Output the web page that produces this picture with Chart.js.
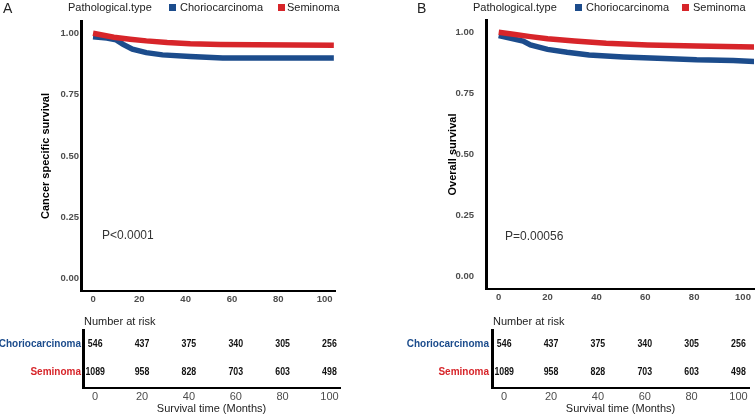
<!DOCTYPE html>
<html>
<head>
<meta charset="utf-8">
<script src="https://cdn.jsdelivr.net/npm/chart.js@4.4.1/dist/chart.umd.min.js"></script>
<style>
  body { margin: 0; background: #fff; }
  #wrap { position: relative; width: 756px; height: 416px; overflow: hidden; font-family: "Liberation Sans", Arial, sans-serif; }
  #wrap canvas { position: absolute; }
  .txt { position: absolute; white-space: nowrap; line-height: 13px; font-size: 11px; color: #222; }
  .tag { position: absolute; font-size: 14px; line-height: 14px; color: #222; }
  .pval { position: absolute; white-space: nowrap; font-size: 12px; line-height: 14px; color: #333; }
  .sq { position: absolute; width: 7px; height: 7px; }
</style>
</head>
<body>
<div id="wrap">
  <canvas id="kmA" width="378" height="310" style="left:0;top:0"></canvas>
  <canvas id="kmB" width="378" height="310" style="left:378px;top:0"></canvas>
  <canvas id="riskA" width="378" height="106" style="left:0;top:310px"></canvas>
  <canvas id="riskB" width="378" height="106" style="left:378px;top:310px"></canvas>

  <div class="tag" style="left:3px;top:1px">A</div>
  <div class="txt" style="left:68px;top:1px">Pathological.type</div>
  <div class="sq" style="left:169px;top:4px;background:#1C4C8C"></div>
  <div class="txt" style="left:180px;top:1px">Choriocarcinoma</div>
  <div class="sq" style="left:278px;top:4px;background:#D7252A"></div>
  <div class="txt" style="left:287px;top:1px">Seminoma</div>
  <div class="pval" style="left:102px;top:228px">P&lt;0.0001</div>
  <div class="txt" style="left:84px;top:315px">Number at risk</div>

  <div class="tag" style="left:417px;top:1px">B</div>
  <div class="txt" style="left:473px;top:1px">Pathological.type</div>
  <div class="sq" style="left:575px;top:4px;background:#1C4C8C"></div>
  <div class="txt" style="left:586px;top:1px">Choriocarcinoma</div>
  <div class="sq" style="left:682px;top:4px;background:#D7252A"></div>
  <div class="txt" style="left:693px;top:1px">Seminoma</div>
  <div class="pval" style="left:505px;top:229px">P=0.00056</div>
  <div class="txt" style="left:493px;top:315px">Number at risk</div>
</div>

<script>
const timeTicks = [0, 20, 40, 60, 80, 100];
const survTicks = [0, 0.25, 0.5, 0.75, 1];
const groups = ["Choriocarcinoma", "Seminoma"];
const groupColors = ["#1C4C8C", "#D7252A"];

// cancer specific survival (A)
const cssChorioTime = [0, 6, 10, 13, 17, 23, 30, 42, 56, 104];
const cssChorio = [0.986, 0.981, 0.973, 0.955, 0.935, 0.921, 0.912, 0.905, 0.899, 0.899];
const cssSemTime = [0, 9, 16, 23, 32, 42, 55, 70, 104];
const cssSem = [1.0, 0.984, 0.976, 0.969, 0.962, 0.957, 0.954, 0.953, 0.951];

// overall survival (B)
const osChorioTime = [0, 5, 10, 13, 20, 28, 37, 51, 65, 81, 96, 105];
const osChorio = [0.986, 0.975, 0.964, 0.948, 0.930, 0.918, 0.907, 0.899, 0.894, 0.887, 0.884, 0.880];
const osSemTime = [0, 6, 13, 20, 31, 44, 61, 81, 105];
const osSem = [1.0, 0.992, 0.982, 0.973, 0.964, 0.955, 0.948, 0.944, 0.939];

// number at risk (same in both panels)
const atRiskChorio = [546, 437, 375, 340, 305, 256];
const atRiskSem = [1089, 958, 828, 703, 603, 498];

function pts(t, s) {
  return t.map((v, i) => ({ x: v, y: s[i] }));
}

function kmChart(id, curves, yTitle, o) {
  return new Chart(document.getElementById(id), {
    type: "line",
    data: {
      datasets: curves.map((d, i) => ({
        label: groups[i],
        data: d,
        borderColor: groupColors[i],
        borderWidth: 5.5,
        pointRadius: 0,
        tension: 0,
        fill: false,
        order: i === 0 ? 1 : 0, // seminoma on top
      })),
    },
    options: {
      responsive: false,
      animation: false,
      events: [],
      layout: { padding: { top: o.top, right: o.right, left: 0, bottom: 0 } },
      plugins: { legend: { display: false }, tooltip: { enabled: false } },
      scales: {
        x: {
          type: "linear",
          min: -5.2,
          max: 104.5,
          grid: { display: false, drawTicks: false },
          border: { color: "#000", width: 2 },
          afterBuildTicks: (s) => { s.ticks = timeTicks.map((v) => ({ value: v })); },
          afterFit: (s) => { s.height = o.xh; },
          ticks: { color: "#4d4d4d", font: { size: 9.5, weight: "bold" }, padding: 3 },
        },
        y: {
          type: "linear",
          min: -0.05,
          max: 1.05,
          grid: { display: false, drawTicks: false },
          border: { color: "#000", width: 3 },
          afterBuildTicks: (s) => { s.ticks = survTicks.map((v) => ({ value: v })); },
          afterFit: (s) => { s.width = o.yw; },
          ticks: {
            color: "#4d4d4d",
            font: { size: 9.5, weight: "bold" },
            padding: o.tickPad,
            callback: (v) => v.toFixed(2),
          },
          title: {
            display: true,
            text: yTitle,
            color: "#000",
            font: { size: 11, weight: "bold" },
            padding: { top: o.titlePad, bottom: 0 },
          },
        },
      },
    },
  });
}

// numbers at risk, narrow bold like the original table
const riskNumbers = {
  id: "riskNumbers",
  afterDraw(chart) {
    const { ctx, scales: { x, y } } = chart;
    ctx.font = 'bold 11px "Liberation Sans", Arial, sans-serif';
    ctx.fillStyle = "#111";
    ctx.textAlign = "center";
    ctx.textBaseline = "middle";
    [atRiskChorio, atRiskSem].forEach((row, r) => {
      row.forEach((n, i) => {
        ctx.save();
        ctx.translate(x.getPixelForValue(timeTicks[i]), y.getPixelForValue(r));
        ctx.scale(0.8, 1);
        ctx.fillText(String(n), 0, 0);
        ctx.restore();
      });
    });
  },
};

function riskChart(id, o) {
  return new Chart(document.getElementById(id), {
    type: "scatter",
    data: { datasets: [] },
    plugins: [riskNumbers],
    options: {
      responsive: false,
      animation: false,
      events: [],
      layout: { padding: { top: 20, right: o.right, left: 0, bottom: 0 } },
      plugins: { legend: { display: false }, tooltip: { enabled: false } },
      scales: {
        x: {
          type: "linear",
          min: -5.2,
          max: 104.5,
          grid: { display: false, drawTicks: false },
          border: { color: "#000", width: 2 },
          afterBuildTicks: (s) => { s.ticks = timeTicks.map((v) => ({ value: v })); },
          afterFit: (s) => { s.height = 28; },
          ticks: { color: "#4d4d4d", font: { size: 11 }, padding: 2 },
          title: {
            display: true,
            text: "Survival time (Months)",
            color: "#222",
            font: { size: 11 },
            padding: { top: 0, bottom: 0 },
          },
        },
        y: {
          type: "linear",
          reverse: true,
          min: -0.52,
          max: 1.59,
          grid: { display: false, drawTicks: false },
          border: { color: "#000", width: 3 },
          afterBuildTicks: (s) => { s.ticks = groups.map((g, i) => ({ value: i })); },
          afterFit: (s) => { s.width = o.yw; },
          ticks: {
            color: (c) => groupColors[c.tick.value],
            font: { size: 10, weight: "bold" },
            padding: o.tickPad,
            callback: (v) => groups[v],
          },
        },
      },
    },
  });
}

kmChart("kmA", [pts(cssChorioTime, cssChorio), pts(cssSemTime, cssSem)], "Cancer specific survival",
  { top: 21, right: 43, xh: 19, yw: 81, tickPad: 2, titlePad: 39 });
kmChart("kmB", [pts(osChorioTime, osChorio), pts(osSemTime, osSem)], "Overall survival",
  { top: 20, right: 2, xh: 21, yw: 108, tickPad: 12, titlePad: 68 });
riskChart("riskA", { right: 38, yw: 83, tickPad: 2 });
riskChart("riskB", { right: 7, yw: 114, tickPad: 3 });
</script>
</body>
</html>
